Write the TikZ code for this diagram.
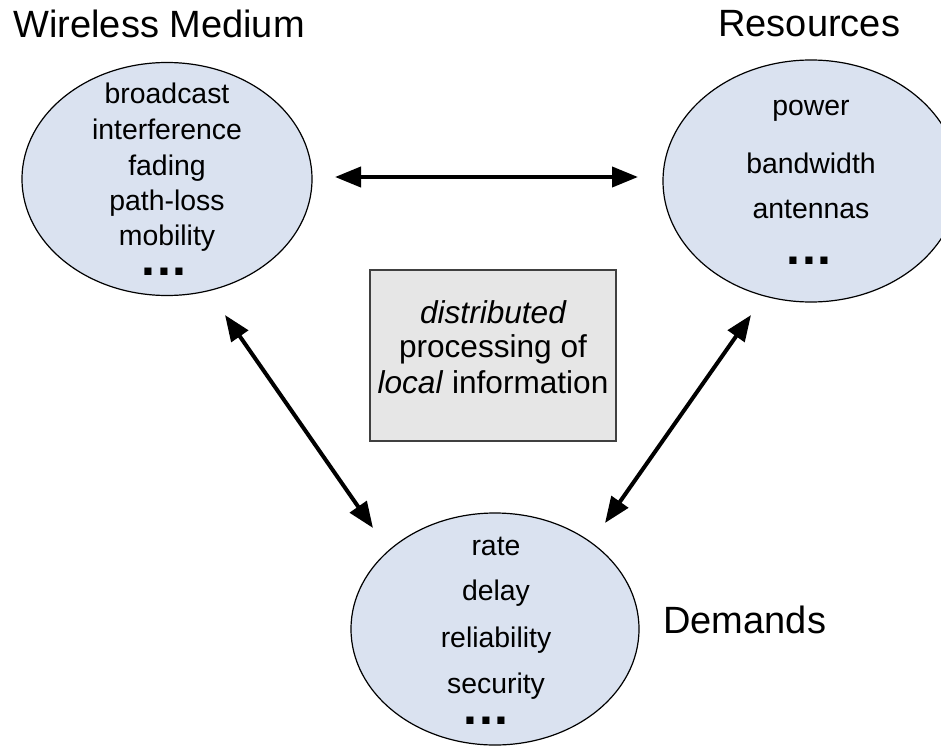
\documentclass[tikz,border=0pt]{standalone}
\usepackage{fontspec}
\setmainfont{Liberation Sans}
\usepackage{xcolor}
\usetikzlibrary{arrows.meta,shapes.geometric}

\definecolor{cloudblue}{HTML}{DAE2F0}
\definecolor{boxgray}{HTML}{E6E6E6}

\tikzset{
	cloud/.style={ellipse,draw,line width=0.6pt,fill=cloudblue,inner sep=0pt},
	item/.style={anchor=base,inner sep=0pt,font=\fontsize{14.2}{17}\selectfont},
	dots/.style={anchor=base,inner sep=0pt,text height=4pt,text depth=0pt,font=\fontsize{25}{25}\bfseries},
	title/.style={anchor=base west,inner sep=0pt,font=\fontsize{19}{22}\selectfont},
	link/.style={{Triangle[length=13pt,width=10pt]}-{Triangle[length=13pt,width=10pt]},line width=2pt}
}

\begin{document}
\begin{tikzpicture}[x=0.5pt,y=-0.5pt]
	\useasboundingbox (0,0) rectangle (941,749);

	% the three ellipses
	\node[cloud,minimum width=145pt,minimum height=116.5pt] (wm) at (167,179) {};
	\node[cloud,minimum width=148pt,minimum height=121pt] (res) at (811,181) {};
	\node[cloud,minimum width=144pt,minimum height=116pt] (dem) at (495,629) {};

	\node[title] (wm-t) at (13,38) {Wireless Medium};
	\node[title] (res-t) at (718,37) {Resources};
	\node[title] (dem-t) at (663,633) {Demands};

	\node[item] (wm-1) at (167,104) {broadcast};
	\node[item] (wm-2) at (167,139.5) {interference};
	\node[item] (wm-3) at (167,175) {fading};
	\node[item] (wm-4) at (167,210) {path-loss};
	\node[item] (wm-5) at (167,245) {mobility};
	\node[dots] (wm-6) at (164,275) {.\kern0.8pt.\kern0.8pt.};

	\node[item] (res-1) at (811,115) {power};
	\node[item] (res-2) at (811,173) {bandwidth};
	\node[item] (res-3) at (811,218) {antennas};
	\node[dots] (res-4) at (809,264) {.\kern0.8pt.\kern0.8pt.};

	\node[item] (dem-1) at (496,555) {rate};
	\node[item] (dem-2) at (496,600) {delay};
	\node[item] (dem-3) at (496,647) {reliability};
	\node[item] (dem-4) at (496,693) {security};
	\node[dots] (dem-5) at (486,724) {.\kern0.8pt.\kern0.8pt.};

	% centre box
	\node[draw=black!75,line width=0.6pt,fill=boxgray,minimum width=123pt,minimum height=85.5pt,inner sep=0pt] (proc) at (493,355.5) {};
	\node[anchor=base,inner sep=0pt,font=\fontsize{15.8}{17.5}\selectfont] (proc-1) at (493,323) {\itshape distributed};
	\node[anchor=base,inner sep=0pt,font=\fontsize{15.8}{17.5}\selectfont] (proc-2) at (493,357) {processing of};
	\node[anchor=base,inner sep=0pt,font=\fontsize{15.8}{17.5}\selectfont] (proc-3) at (493,393) {\textit{local} information};

	% arrow ends
	\coordinate (wm-e) at (335,177);
	\coordinate (res-w) at (638,177);
	\coordinate (wm-s) at (225,315);
	\coordinate (dem-nw) at (373,528);
	\coordinate (res-s) at (751,315);
	\coordinate (dem-ne) at (605,523);

	\draw[link] (wm-e) -- (res-w);
	\draw[link] (wm-s) -- (dem-nw);
	\draw[link] (res-s) -- (dem-ne);
\end{tikzpicture}
\end{document}
